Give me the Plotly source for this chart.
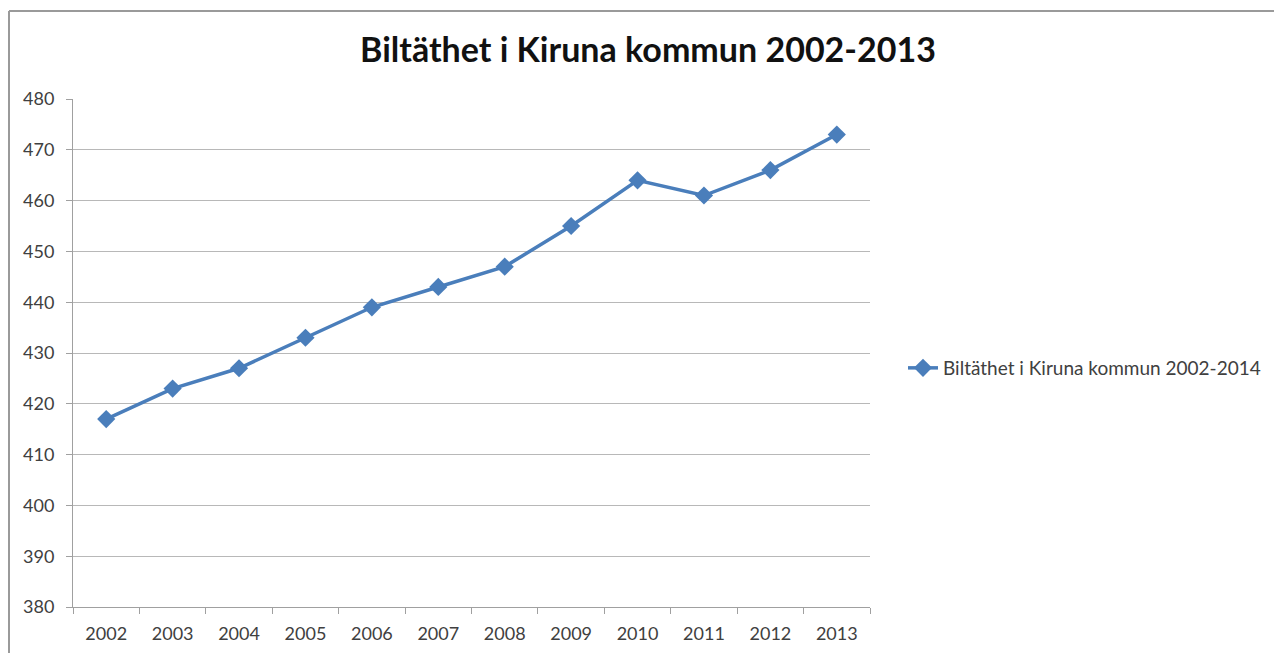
import plotly.graph_objects as go

years = ["2002", "2003", "2004", "2005", "2006", "2007", "2008", "2009", "2010", "2011", "2012", "2013"]
values = [417, 423, 427, 433, 439, 443, 447, 455, 464, 461, 466, 473]
series_name = "Biltäthet i Kiruna kommun 2002-2014"
title_text = "Biltäthet i Kiruna kommun 2002-2013"
y_ticks = [380, 390, 400, 410, 420, 430, 440, 450, 460, 470, 480]

W, H = 1274, 653
L, R, T, B = 73, 1274 - 870, 99, 653 - 607
PW, PH = W - L - R, H - T - B

def px(xpage):
    return (xpage - L) / PW

def py(ypage):
    return (H - B - ypage) / PH

fig = go.Figure()
fig.add_trace(go.Scatter(
    x=years, y=values, name=series_name, mode="lines+markers",
    line=dict(color="#4a7ebb", width=3.5),
    marker=dict(symbol="diamond", size=14, color="#4a7ebb"),
))

border = dict(color="#9a9a9a", width=2)
fig.update_layout(
    width=W, height=H,
    margin=dict(l=L, r=R, t=T, b=B, autoexpand=False),
    paper_bgcolor="white", plot_bgcolor="white",
    font=dict(family="Lato, Open Sans, sans-serif", size=18, color="#404040"),
    title=dict(text="<b>" + title_text + "</b>", x=648 / W, xanchor="center",
               y=1 - 50 / H, yanchor="middle",
               font=dict(size=34, color="#111111", family="Lato, Open Sans, sans-serif")),
    showlegend=True,
    legend=dict(x=px(903), y=py(368), xanchor="left", yanchor="middle",
                font=dict(size=19, color="#404040"), bgcolor="rgba(0,0,0,0)"),
    xaxis=dict(type="category", tickson="boundaries", ticks="outside", ticklen=6,
               tickcolor="#a0a0a0", showline=True, linecolor="#a0a0a0", linewidth=1,
               showgrid=False, range=[-0.5, 11.5], fixedrange=True, ticklabelstandoff=10),
    yaxis=dict(range=[380, 480], tickvals=y_ticks, ticks="outside", ticklen=6,
               tickcolor="#a0a0a0", showline=True, linecolor="#a0a0a0", linewidth=1,
               gridcolor="#b8b8b8", gridwidth=1, zeroline=False, fixedrange=True,
               ticklabelstandoff=8),
    shapes=[
        dict(type="line", xref="paper", yref="paper", x0=px(9), x1=px(1300),
             y0=py(11), y1=py(11), line=border, layer="below"),
        dict(type="line", xref="paper", yref="paper", x0=px(9), x1=px(9),
             y0=py(11), y1=py(700), line=border, layer="below"),
    ],
)

fig.write_html(
    "out.html",
    config={"displayModeBar": False},
    post_script="document.body.style.margin='0';document.body.style.overflow='hidden';",
)
